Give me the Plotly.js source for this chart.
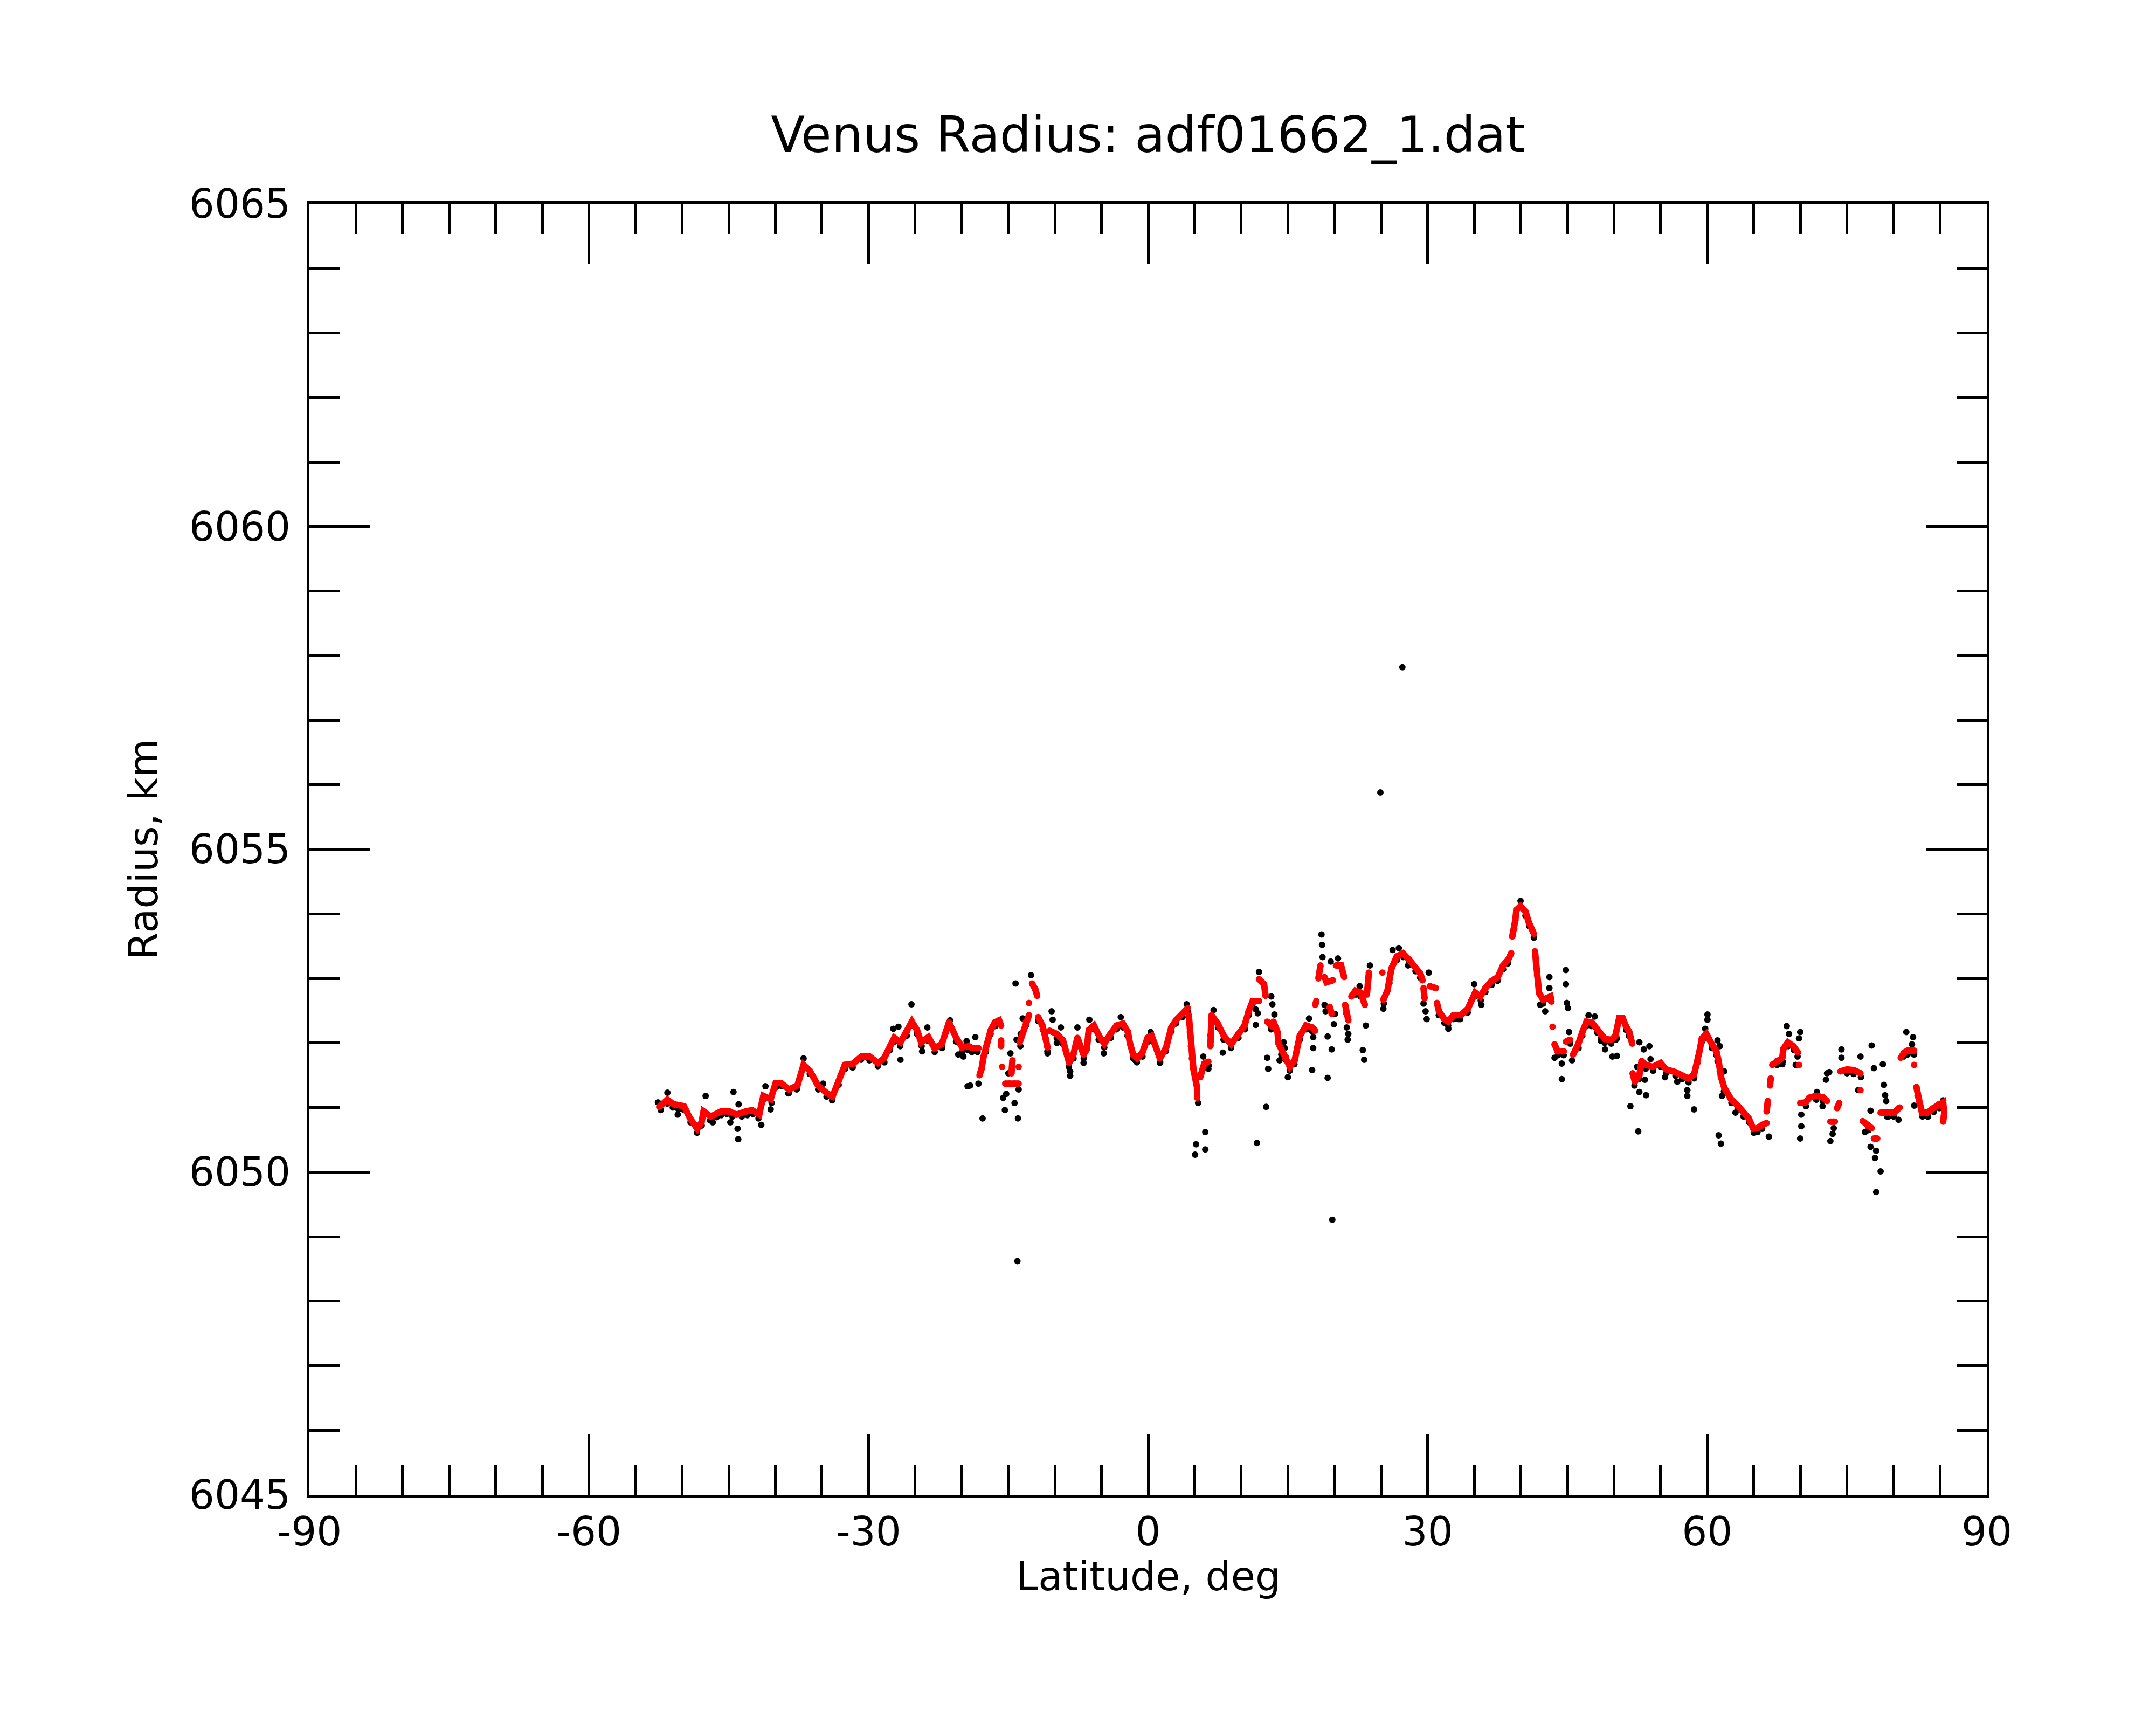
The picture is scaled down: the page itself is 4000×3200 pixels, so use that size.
<!DOCTYPE html>
<html>
<head>
<meta charset="utf-8">
<script src="https://cdn.plot.ly/plotly-3.0.1.min.js"></script>
<style>
  body { margin: 0; background: #fff; }
  #plot { width: 4000px; height: 3200px; }
</style>
</head>
<body>
<div id="plot"></div>
<script>
// raw radius samples (black dots), latitude in deg, radius in km
var rawLat = [
  -52.6, -52.3, -51.6, -51.0, -50.4, -49.8, -49.1, -48.4, -47.9, -47.0, -46.3, -45.8, -45.2, -44.6,
  -43.6, -43.0, -42.4, -41.8, -41.3, -40.4, -39.9, -39.3, -38.6, -37.7, -37.0, -36.3, -35.4, -34.5,
  -33.9, -33.2, -32.5, -31.7, -30.8, -29.9, -29.0, -28.3, -27.7, -27.2, -26.6, -25.9, -25.3, -24.8,
  -24.3, -23.6, -22.9, -22.1, -21.4, -20.6, -19.9, -19.3, -18.9, -18.3, -17.4, -16.9, -16.4, -16.0,
  -13.7, -13.1, -11.8, -11.3, -10.8, -9.8, -9.1, -8.5, -8.0, -7.6, -6.9, -6.4, -5.8, -5.3, -4.7,
  -4.0, -3.4, -2.7, -2.2, -1.6, -1.2, -0.6, 0.0, 0.4, 1.3, 1.9, 2.5, 3.0, 3.7, 4.3, 6.1, 6.5, 7.5,
  8.1, 8.9, 9.7, 10.4, 10.8, 11.2, 13.2, 14.3, 14.8, 15.2, 15.7, 16.3, 17.0, 17.6, 22.3, 22.8, 25.3,
  25.9, 26.7, 27.4, 28.0, 28.7, 29.2, 31.2, 31.8, 32.2, 32.8, 33.5, 34.3, 35.1, 35.7, 36.2, 36.9,
  37.5, 38.1, 38.6, 40.5, 40.9, 41.4, 42.4, 43.2, 44.0, 44.6, 45.3, 46.2, 46.6, 47.1, 47.6, 48.2,
  48.6, 49.0, 49.7, 50.2, 50.6, 51.3, 51.6, 52.2, 52.7, 53.4, 54.2, 55.0, 55.6, 56.6, 57.3, 58.0,
  58.6, 59.4, 59.9, 60.5, 61.0, 61.8, 62.6, 63.3, 63.9, 64.5, 65.0, 65.4, 65.9, 67.5, 68.1, 68.7,
  69.3, 69.7, 70.6, 71.7, 72.4, 75.0, 75.7, 76.5, 77.3, 79.3, 80.0, 81.1, 81.5, 82.2, 83.1, 83.7,
  84.3, 84.9, 85.3,
  // scattered samples
  -51.58, -50.47, -47.48, -46.71, -44.49, -43.94, -44.05, -43.98, -44.83, -41.51, -41.06, -40.5,
  -36.97, -34.87, -38.52, -27.34, -26.79, -26.57, -25.39, -23.69, -24.24, -21.25, -20.37, -19.82,
  -19.37, -19.48, -18.54, -19.09, -18.2, -17.76, -14.22, -14.77, -14.99, -15.22, -15.55, -15.37,
  -14.33, -13.89, -13.96, -12.56, -13.45, -13.67, -14.11, -10.35, -10.24, -10.79, -9.79, -9.35,
  -8.36, -8.36, -7.58, -6.92, -6.3, -4.75, -2.93, -1.38, 0.28, 1.27, 4.15, 5.37, 5.15, 5.04, 6.14,
  6.14, 5.92, 6.47, 7.03, 8.02, 11.68, 11.9, 11.56, 11.78, 11.56, 12.78, 12.89, 12.67, 13.22, 13.34,
  13.56, 14.55, 14.66, 14.11, 15.0, 17.28, 17.72, 17.72, 17.61, 18.61, 18.67, 18.72, 19.6, 20.38,
  18.94, 19.05, 20.05, 19.94, 19.27, 19.71, 19.27, 21.33, 21.49, 21.42, 23.37, 23.04, 23.19, 22.7,
  23.81, 25.25, 26.24, 26.91, 27.9, 30.12, 29.56, 29.78, 29.9, 32.22, 33.33, 34.99, 35.76, 39.97,
  42.07, 42.62, 43.07, 43.07, 44.84, 44.84, 44.95, 45.06, 45.17, 43.62, 44.4, 44.4, 45.5, 47.27,
  47.94, 48.6, 49.04, 49.82, 50.32, 50.32, 51.76, 52.6, 52.72, 53.2, 53.8, 53.92, 52.48, 52.72,
  53.44, 53.32, 55.47, 56.79, 57.87, 57.87, 58.59, 60.03, 60.03, 59.79, 61.11, 61.35, 61.11, 61.83,
  61.59, 61.23, 61.47, 63.03, 65.19, 66.62, 68.06, 68.54, 68.78, 69.98, 69.86, 69.5, 70.1, 70.1,
  69.98, 71.78, 72.38, 72.74, 72.86, 73.1, 73.58, 73.46, 73.22, 74.41, 74.41, 76.45, 77.65, 77.89,
  78.85, 76.21, 77.53, 76.93, 77.53, 78.13, 78.01, 78.61, 78.13, 78.97, 79.09, 79.21, 79.45, 80.53,
  81.37, 82.09, 81.97, 82.21, 83.65, 85.32,
  27.29, 24.93, 19.77, -14.02
];
var rawRadius = [
  6051.08, 6050.96, 6051.06, 6051.00, 6050.97, 6050.96, 6050.77, 6050.61, 6050.72, 6050.80, 6050.85,
  6050.88, 6050.90, 6050.86, 6050.86, 6050.88, 6050.90, 6050.83, 6051.12, 6051.07, 6051.32, 6051.33,
  6051.22, 6051.28, 6051.60, 6051.52, 6051.28, 6051.17, 6051.11, 6051.35, 6051.60, 6051.62, 6051.74,
  6051.73, 6051.64, 6051.70, 6051.89, 6052.02, 6051.95, 6052.11, 6052.27, 6052.14, 6051.95, 6052.03,
  6051.86, 6051.92, 6052.26, 6052.02, 6051.87, 6051.89, 6051.86, 6051.86, 6051.86, 6052.14, 6052.26,
  6052.30, 6051.95, 6052.27, 6052.34, 6052.21, 6051.87, 6052.08, 6051.98, 6051.63, 6051.76, 6052.02,
  6051.76, 6052.14, 6052.21, 6052.05, 6051.93, 6052.08, 6052.21, 6052.24, 6052.11, 6051.76, 6051.70,
  6051.79, 6052.02, 6052.05, 6051.70, 6051.87, 6052.18, 6052.30, 6052.40, 6052.48, 6051.62, 6051.65,
  6052.24, 6052.05, 6051.92, 6052.08, 6052.21, 6052.43, 6052.59, 6052.21, 6051.82, 6051.73, 6051.57,
  6051.67, 6052.05, 6052.21, 6052.18, 6052.75, 6052.72, 6052.61, 6052.93, 6053.28, 6053.33, 6053.23,
  6053.11, 6053.01, 6052.43, 6052.31, 6052.27, 6052.37, 6052.37, 6052.47, 6052.72, 6052.66, 6052.79,
  6052.90, 6052.96, 6053.14, 6053.23, 6053.97, 6053.81, 6053.63, 6052.61, 6052.66, 6051.81, 6051.81,
  6051.99, 6051.92, 6052.11, 6052.27, 6052.26, 6052.16, 6052.07, 6052.00, 6051.99, 6052.05, 6052.33,
  6052.20, 6052.11, 6051.34, 6051.44, 6051.60, 6051.57, 6051.63, 6051.53, 6051.49, 6051.44, 6051.39,
  6051.45, 6052.01, 6052.08, 6051.92, 6051.81, 6051.25, 6051.07, 6050.97, 6050.86, 6050.77, 6050.61,
  6050.62, 6050.67, 6051.66, 6051.71, 6051.95, 6051.89, 6051.79, 6051.02, 6051.12, 6051.10, 6051.53,
  6051.52, 6051.47, 6050.65, 6050.86, 6050.86, 6051.79, 6051.82, 6051.82, 6050.86, 6050.86, 6050.93,
  6050.99, 6051.02,
  6051.23, 6050.89, 6051.18, 6050.77, 6051.24, 6051.05, 6050.67, 6050.51, 6050.77, 6050.73, 6051.33,
  6050.97, 6051.76, 6051.37, 6051.23, 6052.22, 6052.25, 6051.74, 6052.60, 6052.24, 6051.87, 6052.35,
  6051.82, 6051.79, 6051.33, 6052.03, 6052.09, 6051.34, 6051.37, 6050.83, 6052.92, 6051.84, 6051.53,
  6051.21, 6051.15, 6050.96, 6051.07, 6051.28, 6050.83, 6053.05, 6052.38, 6052.14, 6052.05, 6052.49,
  6052.36, 6051.84, 6052.00, 6052.24, 6051.56, 6051.49, 6052.24, 6051.69, 6052.36, 6051.84, 6052.40,
  6051.73, 6052.17, 6051.69, 6052.60, 6051.07, 6050.43, 6050.27, 6050.62, 6050.35, 6051.79, 6051.60,
  6052.51, 6051.85, 6050.45, 6053.10, 6052.52, 6052.46, 6052.28, 6051.77, 6051.60, 6051.01, 6052.72,
  6052.60, 6052.44, 6052.01, 6051.92, 6051.73, 6051.47, 6052.38, 6052.09, 6051.92, 6051.58, 6053.68,
  6053.52, 6053.33, 6053.26, 6053.31, 6052.59, 6052.49, 6052.45, 6052.29, 6052.10, 6051.90, 6051.46,
  6052.24, 6052.14, 6052.05, 6052.27, 6051.89, 6051.74, 6052.88, 6053.20, 6052.53, 6053.44, 6053.47,
  6053.20, 6053.09, 6052.61, 6052.49, 6052.37, 6052.22, 6052.37, 6052.91, 6052.59, 6054.20, 6052.59,
  6052.49, 6053.02, 6052.85, 6053.13, 6052.91, 6052.62, 6052.54, 6052.17, 6051.77, 6051.68, 6051.44,
  6051.73, 6052.43, 6052.41, 6052.03, 6051.90, 6051.79, 6051.80, 6052.07, 6051.02, 6050.63, 6052.01,
  6051.90, 6051.95, 6051.75, 6051.63, 6051.24, 6051.19, 6051.43, 6051.47, 6051.40, 6051.27, 6051.18,
  6050.97, 6052.44, 6052.36, 6052.22, 6052.04, 6051.95, 6051.72, 6051.56, 6051.18, 6050.57, 6050.44,
  6050.92, 6050.62, 6050.55, 6051.67, 6052.26, 6052.14, 6052.17, 6052.07, 6051.66, 6050.89, 6050.71,
  6050.52, 6051.24, 6051.02, 6051.43, 6051.53, 6051.55, 6050.68, 6050.59, 6050.48, 6051.90, 6051.77,
  6051.79, 6051.96, 6051.61, 6051.67, 6051.27, 6050.95, 6050.62, 6050.39, 6050.33, 6050.22, 6050.01,
  6049.69, 6051.35, 6051.19, 6051.10, 6050.86, 6050.81, 6052.17, 6052.09, 6051.98, 6051.03, 6050.86,
  6051.11,
  6057.82, 6055.88, 6049.26, 6048.62
];

// filtered radius (red dots); null marks a gap in the profile
var fitLat = [
  -52.46, -51.58, -50.91, -49.81, -49.14, -48.37, -47.92, -47.70, -46.93, -45.82, -44.94, -44.16,
  -43.17, -42.50, -41.73, -41.28, -40.50, -39.96, -39.40, -38.52, -37.63, -36.97, -36.30, -35.42,
  -34.53, -33.87, -33.21, -32.54, -31.66, -30.77, -29.88, -29.00, -28.34, -27.67, -27.23, -26.57,
  -25.90, -25.35, -24.80, -24.35, -23.58, -22.91, -22.14, -21.36, -20.59, -19.93, -19.26, -18.87,
  -18.20, null,
  -18.09, -17.87, -17.65, -17.43, -16.88, -16.43, -15.99, -15.77, null,
  -15.77, -15.77, null, -15.66, null,
  -15.33, -14.88, -14.33, -13.89, null, -14.66, -14.55, null, -13.89, null,
  -13.78, -13.45, -13.11, -12.78, null, -12.78, null, -12.45, -12.12, -11.90, null,
  -11.79, -11.34, -11.01, -10.79, null,
  -10.57, -9.79, -9.13, -8.80, -8.47, -8.02, -7.58, -6.92, -6.58, -6.36, -5.81, -5.26, -4.70, -4.04,
  -3.38, -2.71, -2.16, -1.94, -1.60, -1.16, -0.61, -0.05, 0.39, 0.72, 1.27, 1.94, 2.49, 3.04, 3.71,
  4.26, null,
  4.37, 4.48, 4.59, 4.70, 4.86, 5.26, 5.26, null, 5.59, 6.03, 6.47, null,
  6.69, 6.69, 6.81, 7.47, 8.13, 8.91, 9.68, 10.35, 10.79, 11.23, 11.90, null,
  11.90, 12.45, 12.60, null,
  12.78, 13.22, 13.45, 13.89, 14.00, 14.33, 14.77, 15.22, 15.73, 15.95, 16.28, 16.95, 17.61, 17.94,
  null, 17.94, 18.05, null, 18.28, 18.50, null, 18.94, 19.16, 19.83, null, 19.49, 19.71, null,
  20.16, 20.71, 21.04, null, 21.15, 21.26, 21.49, null, 21.82, 22.26, 22.81, 23.26, null,
  23.48, 23.70, null, 25.14, null,
  25.25, 25.69, 25.91, 26.13, 26.69, 27.35, 28.01, 28.68, 29.23, 29.45, null, 29.56, 29.67, null,
  30.23, 30.89, null,
  31.00, 31.22, 31.78, 32.22, 32.77, 33.55, 34.32, 34.65, 35.10, 35.65, 36.20, 36.87, 37.53, 38.09,
  38.64, 38.97, null,
  39.08, 39.30, 39.41, 39.52, 39.97, 40.52, 40.85, 41.41, null,
  41.52, 41.63, 41.74, 41.85, 41.96, 42.40, 43.18, 43.29, null, 43.40, null,
  43.62, 43.95, 44.61, null, 44.84, 45.28, null,
  45.61, 46.16, 46.61, 47.05, 47.60, 48.16, 48.60, 49.04, 49.71, 50.15, 50.56, 50.92, 51.28, 51.64,
  51.95, null,
  52.00, 52.24, 52.72, 52.96, 53.44, 54.16, 54.99, 55.59, 56.55, 57.27, 57.99, 58.59, 58.95, 59.19,
  59.43, 59.91, 60.51, 60.99, 61.23, 61.35, 61.47, 61.83, 62.55, 63.27, 63.87, 64.47, 64.95, 65.43,
  65.90, 66.38, null, 66.38, 66.50, null, 66.74, 66.82, null,
  66.98, 67.46, 68.06, 68.18, 68.66, 69.26, 69.74, null, 69.86, null,
  69.98, 70.58, 70.94, 71.66, 72.38, 72.86, null, 73.22, 73.70, null, 73.94, 74.17, null,
  74.29, 75.01, 75.73, 76.45, null, 76.45, null, 76.69, 77.29, 77.65, null, 77.89, 78.25, null,
  78.61, 79.33, 80.05, 80.65, null, 80.77, 81.13, 81.49, 82.21, null, 82.21, null,
  82.45, 82.57, 82.81, 83.05, 83.65, 84.25, 84.85, 85.32, 85.44, 85.32
];
var fitRadius = [
  6051.01, 6051.12, 6051.05, 6051.02, 6050.83, 6050.67, 6050.77, 6050.94, 6050.86, 6050.94, 6050.94,
  6050.89, 6050.94, 6050.96, 6050.89, 6051.18, 6051.13, 6051.38, 6051.38, 6051.28, 6051.34, 6051.66,
  6051.57, 6051.34, 6051.23, 6051.17, 6051.41, 6051.66, 6051.68, 6051.79, 6051.79, 6051.69, 6051.76,
  6051.95, 6052.08, 6052.01, 6052.17, 6052.33, 6052.20, 6052.01, 6052.09, 6051.92, 6051.98, 6052.32,
  6052.08, 6051.93, 6051.95, 6051.92, 6051.92, null,
  6051.50, 6051.60, 6051.79, 6051.92, 6052.20, 6052.32, 6052.35, 6052.27, null,
  6052.04, 6051.95, null, 6051.63, null,
  6051.37, 6051.37, 6051.37, 6051.37, null, 6051.53, 6051.73, null, 6051.63, null,
  6052.01, 6052.17, 6052.33, 6052.43, null, 6052.62, null, 6052.92, 6052.84, 6052.73, null,
  6052.40, 6052.27, 6052.08, 6051.93, null,
  6052.19, 6052.14, 6052.04, 6051.85, 6051.69, 6051.82, 6052.08, 6051.82, 6051.90, 6052.20, 6052.27,
  6052.11, 6051.99, 6052.14, 6052.27, 6052.30, 6052.17, 6051.99, 6051.82, 6051.76, 6051.85, 6052.08,
  6052.11, 6051.98, 6051.76, 6051.93, 6052.24, 6052.36, 6052.46, 6052.54, null,
  6052.43, 6052.17, 6051.95, 6051.76, 6051.60, 6051.31, 6051.15, null, 6051.47, 6051.68, 6051.71, null,
  6051.95, 6052.12, 6052.43, 6052.30, 6052.11, 6051.98, 6052.14, 6052.27, 6052.49, 6052.65, 6052.65,
  null,
  6052.99, 6052.91, 6052.73, null,
  6052.33, 6052.27, 6052.33, 6052.17, 6051.99, 6051.88, 6051.79, 6051.63, 6051.73, 6051.92, 6052.11,
  6052.27, 6052.24, 6052.19,
  null, 6052.59, 6052.65, null, 6053.00, 6053.20, null, 6053.02, 6052.94, 6052.97, null, 6052.56,
  6052.45, null,
  6053.20, 6053.20, 6053.02, null, 6052.59, 6052.46, 6052.35, null, 6052.72, 6052.81, 6052.78,
  6052.59, null,
  6052.75, 6053.09, null, 6053.09, null,
  6052.67, 6052.81, 6052.99, 6053.16, 6053.34, 6053.39, 6053.29, 6053.17, 6053.07, 6052.97, null,
  6052.85, 6052.69, null,
  6052.88, 6052.85, null,
  6052.62, 6052.49, 6052.37, 6052.33, 6052.43, 6052.43, 6052.53, 6052.65, 6052.78, 6052.72, 6052.85,
  6052.96, 6053.02, 6053.20, 6053.29, 6053.39, null,
  6053.65, 6053.77, 6053.90, 6054.06, 6054.12, 6054.03, 6053.87, 6053.69, null,
  6053.42, 6053.23, 6053.05, 6052.91, 6052.77, 6052.67, 6052.72, 6052.64, null, 6052.25, null,
  6051.98, 6051.87, 6051.87, null, 6052.02, 6052.05, null,
  6051.82, 6051.98, 6052.17, 6052.33, 6052.32, 6052.22, 6052.13, 6052.06, 6052.05, 6052.11, 6052.39,
  6052.39, 6052.26, 6052.17, 6051.99, null,
  6051.53, 6051.40, 6051.50, 6051.72, 6051.66, 6051.63, 6051.69, 6051.59, 6051.55, 6051.50, 6051.45,
  6051.51, 6051.69, 6051.88, 6052.07, 6052.14, 6051.98, 6051.87, 6051.72, 6051.56, 6051.48, 6051.31,
  6051.13, 6051.03, 6050.92, 6050.83, 6050.67, 6050.68, 6050.73, 6050.76, null, 6050.94, 6051.10,
  null, 6051.34, 6051.45, null,
  6051.66, 6051.72, 6051.77, 6051.91, 6052.01, 6051.95, 6051.85, null, 6051.66, null,
  6051.07, 6051.08, 6051.15, 6051.18, 6051.16, 6051.10, null, 6050.78, 6050.78, null, 6050.99,
  6051.07, null,
  6051.56, 6051.59, 6051.58, 6051.53, null, 6051.27, null, 6050.79, 6050.71, 6050.68, null, 6050.52,
  6050.52, null,
  6050.92, 6050.92, 6050.92, 6051.00, null, 6051.77, 6051.85, 6051.88, 6051.88, null, 6051.66, null,
  6051.32, 6051.18, 6051.07, 6050.92, 6050.92, 6050.99, 6051.05, 6051.08, 6050.92, 6050.78
];

var xTickVals = [-90, -60, -30, 0, 30, 60, 90];
var xTickText = ['-90', '-60', '-30', '0', '30', '60', '90'];
var yTickVals = [6045, 6050, 6055, 6060, 6065];
var yTickText = ['6045', '6050', '6055', '6060', '6065'];

var font = 'DejaVu Sans, sans-serif';

var raw = {
  x: rawLat,
  y: rawRadius,
  mode: 'markers',
  type: 'scatter',
  marker: { color: '#000000', size: 12 },
  hoverinfo: 'skip'
};

var fit = {
  x: fitLat,
  y: fitRadius,
  mode: 'lines+markers',
  type: 'scatter',
  connectgaps: false,
  line: { color: '#ff0000', width: 12 },
  marker: { color: '#ff0000', size: 12 },
  hoverinfo: 'skip'
};

var axisCommon = {
  showline: true,
  linecolor: '#000',
  linewidth: 5,
  mirror: 'ticks',
  ticks: 'inside',
  ticklen: 112,
  tickwidth: 5,
  tickcolor: '#000',
  showgrid: false,
  zeroline: false,
  tickfont: { family: font, size: 74, color: '#000' }
};

var layout = {
  width: 4000,
  height: 3200,
  paper_bgcolor: '#fff',
  plot_bgcolor: '#fff',
  showlegend: false,
  margin: { l: 574, r: 314, t: 378, b: 427 },
  title: {
    text: 'Venus Radius: adf01662_1.dat',
    font: { family: font, size: 92, color: '#000' },
    x: 0.5,
    xref: 'paper',
    y: 0.922,
    yanchor: 'middle'
  },
  xaxis: Object.assign({}, axisCommon, {
    range: [-90, 90],
    tickmode: 'array',
    tickvals: xTickVals,
    ticktext: xTickText,
    minor: { tickmode: 'linear', tick0: -90, dtick: 5, ticks: 'inside', ticklen: 56, tickwidth: 5, tickcolor: '#000' }
  }),
  yaxis: Object.assign({}, axisCommon, {
    range: [6045, 6065],
    tickmode: 'array',
    tickvals: yTickVals,
    ticktext: yTickText,
    ticklabelstandoff: 15,
    minor: { tickmode: 'linear', tick0: 6045, dtick: 1, ticks: 'inside', ticklen: 56, tickwidth: 5, tickcolor: '#000' },
    title: { text: 'Radius, km', font: { family: font, size: 74, color: '#000' }, standoff: 35 }
  }),
  // x axis title placed as an annotation so it sits close under the tick labels
  annotations: [{
    text: 'Latitude, deg',
    xref: 'paper', yref: 'paper',
    x: 0.5, y: -0.063,
    xanchor: 'center', yanchor: 'middle',
    showarrow: false,
    font: { family: font, size: 74, color: '#000' }
  }]
};

Plotly.newPlot('plot', [raw, fit], layout, { staticPlot: true, displayModeBar: false });
</script>
</body>
</html>
